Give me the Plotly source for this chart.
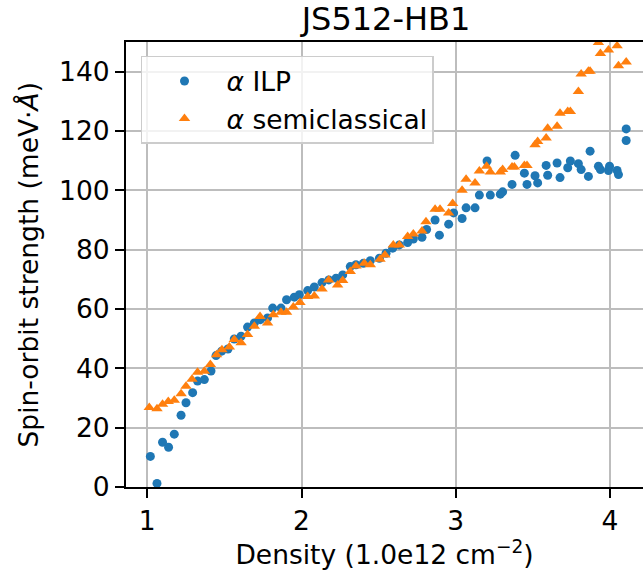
import plotly.graph_objects as go

# ---- data ----
x_ilp = [1.020, 1.063, 1.099, 1.138, 1.175, 1.219, 1.251, 1.294, 1.326, 1.370,
         1.413, 1.446, 1.482, 1.523, 1.564, 1.608, 1.650, 1.694, 1.733, 1.780,
         1.813, 1.867, 1.903, 1.953, 1.986, 2.040, 2.083, 2.133, 2.177, 2.224,
         2.267, 2.316, 2.353, 2.401, 2.446, 2.505, 2.548, 2.591, 2.634, 2.688,
         2.725, 2.781, 2.811, 2.866, 2.894, 2.954, 2.986, 3.041, 3.067, 3.125,
         3.153, 3.203, 3.224, 3.289, 3.304, 3.365, 3.385, 3.445, 3.462, 3.514,
         3.531, 3.586, 3.596, 3.657, 3.676, 3.726, 3.743, 3.795, 3.813, 3.860,
         3.871, 3.925, 3.938, 3.990, 3.997, 4.046, 4.055, 4.105, 4.105]
alpha_ilp = [10.3, 1.2, 15.1, 13.4, 17.8, 24.2, 28.4, 31.8, 35.7, 36.2,
             39.1, 44.3, 45.8, 46.5, 49.9, 50.8, 53.9, 55.3, 56.4, 57.0,
             60.3, 60.3, 63.1, 64.0, 64.8, 66.2, 67.4, 68.9, 69.8, 70.4,
             71.5, 74.3, 74.9, 75.4, 76.3, 77.1, 78.8, 80.5, 81.6, 82.4,
             83.6, 84.2, 86.8, 90.0, 84.9, 88.6, 92.4, 90.5, 94.1, 94.1,
             98.4, 109.9, 98.4, 98.7, 99.5, 102.0, 111.8, 105.8, 102.0, 104.9,
             102.5, 108.4, 105.1, 109.2, 104.3, 107.6, 109.9, 109.0, 107.0, 104.7,
             113.2, 108.1, 107.0, 106.7, 108.1, 106.7, 105.3, 120.7, 116.8]

x_semi = [1.013, 1.063, 1.099, 1.136, 1.175, 1.219, 1.251, 1.290, 1.326, 1.370,
          1.409, 1.449, 1.484, 1.532, 1.564, 1.608, 1.650, 1.694, 1.731, 1.780,
          1.817, 1.867, 1.903, 1.947, 1.990, 2.040, 2.083, 2.133, 2.176, 2.234,
          2.267, 2.316, 2.353, 2.407, 2.446, 2.509, 2.541, 2.595, 2.634, 2.688,
          2.725, 2.781, 2.807, 2.866, 2.898, 2.954, 2.980, 3.041, 3.067, 3.125,
          3.153, 3.200, 3.224, 3.289, 3.304, 3.365, 3.380, 3.445, 3.462, 3.514,
          3.531, 3.586, 3.596, 3.657, 3.676, 3.726, 3.743, 3.795, 3.813, 3.860,
          3.871, 3.925, 3.938, 3.990, 4.046, 4.055, 4.105]
alpha_semi = [26.8, 26.4, 27.9, 28.8, 29.2, 31.4, 34.0, 36.3, 38.7, 39.0,
              41.3, 44.6, 46.3, 47.2, 49.7, 48.6, 51.4, 54.2, 57.5, 55.3,
              58.1, 58.9, 58.9, 60.7, 62.2, 64.2, 64.4, 66.7, 69.8, 68.1,
              69.6, 72.6, 74.5, 75.4, 74.9, 76.8, 78.2, 81.6, 81.6, 84.4,
              85.3, 86.3, 89.4, 93.6, 93.6, 92.4, 95.6, 100.0, 103.7, 102.5,
              106.5, 108.1, 106.2, 106.2, 107.0, 107.9, 107.9, 108.4, 108.4, 115.4,
              116.5, 117.6, 120.9, 121.6, 126.0, 126.6, 126.6, 133.3, 139.2, 140.1,
              140.1, 149.8, 146.1, 147.3, 148.7, 142.0, 143.3]

x_ticks = [1, 2, 3, 4]
y_ticks = [0, 20, 40, 60, 80, 100, 120, 140]

FONT = "DejaVu Sans"
FS = 26.5

fig = go.Figure()
fig.add_trace(go.Scatter(
    x=x_ilp, y=alpha_ilp, mode="markers", name="<i>α</i> ILP",
    marker=dict(symbol="circle", size=9, color="#1f77b4", line=dict(width=0)),
))
fig.add_trace(go.Scatter(
    x=x_semi, y=alpha_semi, mode="markers", name="<i>α</i> semiclassical",
    marker=dict(symbol="triangle-up", size=10, color="#ff7f0e", line=dict(width=0)),
))

axis_common = dict(
    showgrid=True, gridcolor="#bdbdbd", gridwidth=1.5,
    zeroline=False, showline=True, linecolor="black", linewidth=2,
    ticks="outside", ticklen=9, tickwidth=2, tickcolor="black",
    tickfont=dict(family=FONT, size=FS, color="black"),
)

fig.update_layout(
    width=643, height=583,
    margin=dict(l=126, r=0, t=42, b=96),
    paper_bgcolor="white", plot_bgcolor="white",
    font=dict(family=FONT, color="black"),
    title=dict(text="JS512-HB1", x=386 / 643, xref="container", xanchor="center",
               y=1 - 19 / 583, yref="container", yanchor="middle",
               font=dict(family=FONT, size=32, color="black")),
    xaxis=dict(range=[0.862, 4.214], tickvals=x_ticks, mirror=True,
               title=dict(text="Density (1.0e12 cm<sup>−2</sup>)",
                          font=dict(family=FONT, size=FS, color="black"), standoff=10),
               **axis_common),
    yaxis=dict(range=[0, 150], tickvals=y_ticks, mirror=False, **axis_common),
    legend=dict(x=0.029, y=0.969, xanchor="left", yanchor="top",
                bgcolor="rgba(255,255,255,0.8)", bordercolor="#cccccc", borderwidth=1.5,
                font=dict(family=FONT, size=FS, color="black"),
                itemwidth=74, tracegroupgap=2),
    showlegend=True,
    annotations=[dict(
        text="Spin-orbit strength (meV·<i>Å</i>)", textangle=-90,
        xref="paper", yref="paper", x=(28 - 126) / 517, y=0.5,
        xanchor="center", yanchor="middle", showarrow=False,
        font=dict(family=FONT, size=FS, color="black"),
    )],
)

fig.write_html("out.html", config={"displayModeBar": False},
               post_script="document.body.style.margin='0px';")
